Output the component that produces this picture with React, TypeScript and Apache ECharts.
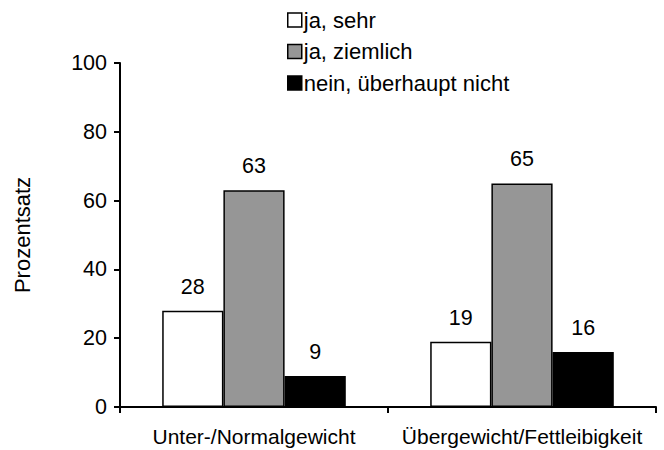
import React, { useEffect, useRef } from "react";
import * as echarts from "echarts";

const categories = ["Unter-/Normalgewicht", "Übergewicht/Fettleibigkeit"];
const seriesNames = ["ja, sehr", "ja, ziemlich", "nein, überhaupt nicht"];
const jaSehr = [28, 19];
const jaZiemlich = [63, 65];
const nein = [9, 16];
const yTicks = [0, 20, 40, 60, 80, 100];
const colors = ["#ffffff", "#969696", "#000000"];

export default function App() {
  const ref = useRef<HTMLDivElement>(null);
  useEffect(() => {
    if (!ref.current) return;
    const chart = echarts.init(ref.current, null, { renderer: "svg" });
    const font = "Liberation Sans, Arial, sans-serif";
    const values = [jaSehr, jaZiemlich, nein];
    chart.setOption({
      animation: false,
      textStyle: { fontFamily: font },
      legend: {
        orient: "vertical",
        left: 282,
        top: 4,
        itemWidth: 14,
        itemHeight: 14,
        itemGap: 9.5,
        icon: "rect",
        textStyle: { fontSize: 22, lineHeight: 22, color: "#000", fontFamily: font, padding: [0, 0, 0, -3] },
        data: seriesNames.map((n, i) => ({
          name: n,
          itemStyle: { color: colors[i], borderColor: "#000", borderWidth: 1.5 },
        })),
      },
      grid: { left: 120, right: 8, top: 63, bottom: 43, containLabel: false },
      xAxis: {
        type: "category",
        data: categories,
        axisLine: { lineStyle: { color: "#000", width: 2 } },
        axisTick: { show: true, alignWithLabel: false, length: 6, lineStyle: { color: "#000", width: 2 } },
        axisLabel: { color: "#000", fontSize: 21, fontFamily: font, margin: 19, interval: 0 },
      },
      yAxis: {
        type: "value",
        min: 0,
        max: 100,
        interval: 20,
        name: "Prozentsatz",
        nameLocation: "middle",
        nameGap: 87,
        nameTextStyle: { color: "#000", fontSize: 22, fontFamily: font },
        axisLine: { show: true, lineStyle: { color: "#000", width: 2 } },
        axisTick: { show: true, length: 6, lineStyle: { color: "#000", width: 2 } },
        axisLabel: {
          color: "#000",
          fontSize: 21.5,
          fontFamily: font,
          margin: 13,
          formatter: (v: number) => (yTicks.includes(v) ? String(v) : ""),
        },
        splitLine: { show: false },
      },
      series: seriesNames.map((n, i) => ({
        name: n,
        type: "bar",
        data: values[i],
        barGap: "0%",
        barCategoryGap: "31.5%",
        itemStyle: { color: colors[i], borderColor: "#000", borderWidth: 1.5 },
        label: {
          show: true,
          position: "top",
          distance: 13,
          color: "#000",
          fontSize: 21.5,
          fontFamily: font,
        },
      })),
    });
    return () => chart.dispose();
  }, []);
  return (
    <div
      ref={ref}
      style={{ position: "fixed", left: 0, top: 0, width: 664, height: 450, background: "#fff" }}
    />
  );
}
